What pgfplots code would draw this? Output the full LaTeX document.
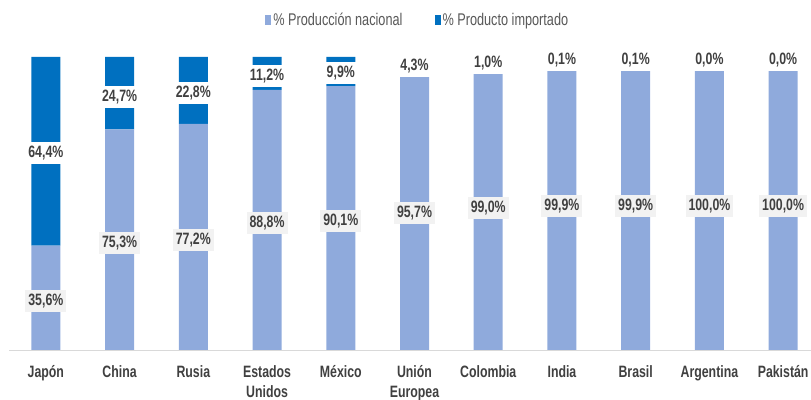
\documentclass[border=0pt]{standalone}
\usepackage{pgfplots}
\pgfplotsset{compat=1.18}
\usepackage{pgfplotstable}
\usepackage{fontspec}
\setmainfont{Liberation Sans}[FakeStretch=0.75]
\definecolor{nac}{HTML}{8FAADC}
\definecolor{imp}{HTML}{0070C0}
\definecolor{txt}{HTML}{404040}
\definecolor{leg}{HTML}{595959}
\definecolor{lbl}{HTML}{F2F2F2}
\definecolor{axl}{HTML}{D9D9D9}

\pgfplotstableread{
x nac imp ynac yimp lnac limp
0 35.6 64.4 16.8 67.2 35,6 64,4
1 75.3 24.7 36.6 86.5 75,3 24,7
2 77.2 22.8 37.6 87.7 77,2 22,8
3 88.8 11.2 43.4 93.5 88,8 11,2
4 90.1 9.9 44.0 94.5 90,1 9,9
5 95.7 4.3 46.8 96.9 95,7 4,3
6 99.0 1.0 48.5 98.0 99,0 1,0
7 99.9 0.1 49.0 99.0 99,9 0,1
8 99.9 0.1 49.0 99.0 99,9 0,1
9 100.0 0.0 49.0 99.0 100,0 0,0
10 100.0 0.0 49.0 99.0 100,0 0,0
}\data

\pgfplotsset{
  base/.style={
    scale only axis, width=811bp, height=293bp,
    at={(9bp,50bp)}, anchor=south west,
    xmin=-0.5, xmax=10.5, ymin=0, ymax=100,
  },
}

\begin{document}
\begin{tikzpicture}
\path[use as bounding box, clip] (0,0) rectangle (811bp,400bp);
\begin{axis}[base,
  ybar stacked, bar width=29bp,
  axis x line*=bottom, axis y line=none,
  axis line style={draw=axl, line width=1pt},
  xtick={0,...,10},
  xticklabels={Japón,China,Rusia,{Estados\\Unidos},México,{Unión\\Europea},Colombia,India,Brasil,Argentina,Pakistán},
  xticklabel style={align=center, font=\fontsize{16.5}{20}\selectfont\bfseries, text=txt, anchor=north, yshift=-12bp},
  major tick length=0pt,
  ytick=\empty,
  legend columns=2,
  legend style={at={(0.504,1)}, anchor=south, yshift=26bp, draw=none,
    font=\fontsize{17}{20}\selectfont, text=leg,
    /tikz/every even column/.append style={column sep=30bp}},
  legend image code/.code={\fill[#1] (0bp,-5bp) rectangle (6bp,5bp);},
]
\addplot[fill=nac, draw=none] table[x=x, y=nac] {\data};
\addlegendentry{\% Producción nacional}
\addplot[fill=imp, draw=none] table[x=x, y=imp] {\data};
\addlegendentry{\% Producto importado}
\end{axis}
\begin{axis}[base, axis lines=none, clip=false, xtick=\empty, ytick=\empty]
\addplot[draw=none, mark=none, point meta=explicit symbolic,
  nodes near coords={\pgfplotspointmeta\%}, nodes near coords align={center},
  every node near coord/.append style={fill=lbl, text=txt, inner xsep=3bp, inner ysep=4bp,
    font=\fontsize{16.5}{18}\selectfont\bfseries}]
  table[x=x, y=ynac, meta=lnac] {\data};
\addplot[draw=none, mark=none, point meta=explicit symbolic,
  nodes near coords={\pgfplotspointmeta\%}, nodes near coords align={center},
  every node near coord/.append style={fill=white, text=txt, inner xsep=3bp, inner ysep=4bp,
    font=\fontsize{16.5}{18}\selectfont\bfseries}]
  table[x=x, y=yimp, meta=limp] {\data};
\end{axis}
\end{tikzpicture}
\end{document}
